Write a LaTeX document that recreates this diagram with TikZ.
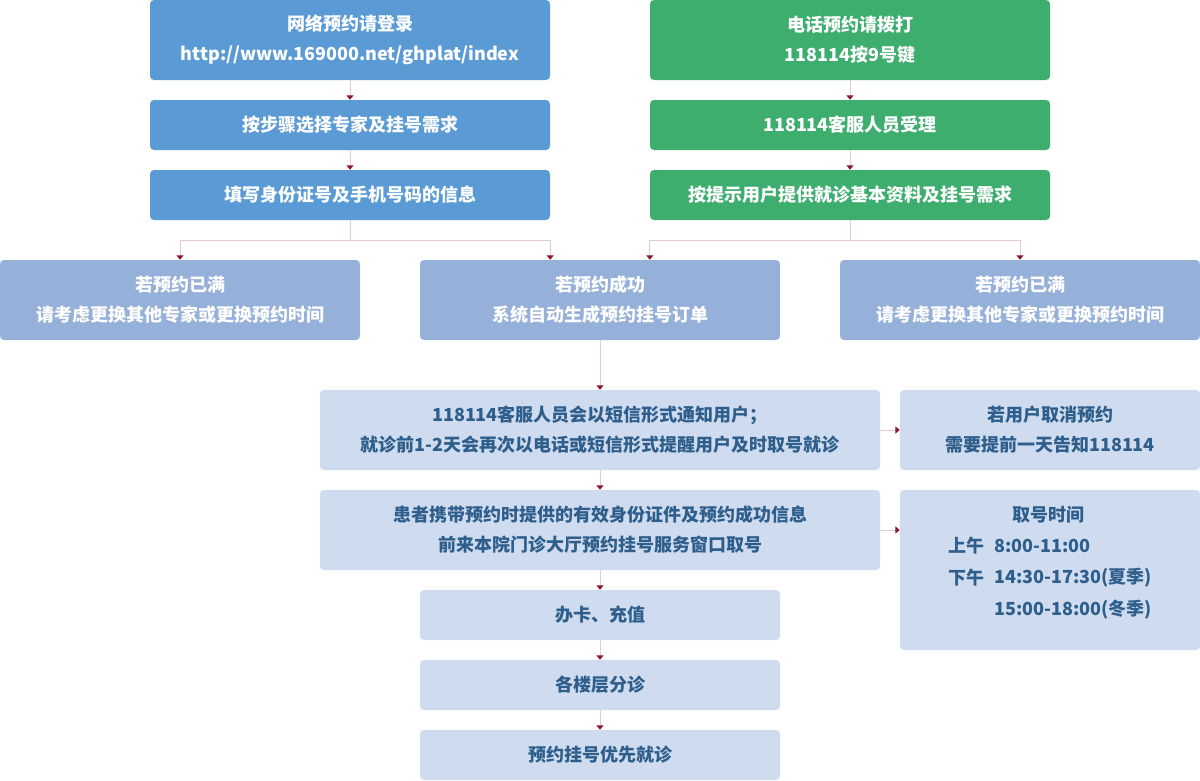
\documentclass[tikz,border=0pt]{standalone}
\usepackage{fontspec}
\setmainfont{Noto Sans CJK SC}
\usetikzlibrary{arrows.meta}
\definecolor{cblue}{HTML}{5B9BD5}
\definecolor{cgreen}{HTML}{3DAE6E}
\definecolor{cmid}{HTML}{95B0D9}
\definecolor{clight}{HTML}{CFDBEE}
\definecolor{ctext}{HTML}{2E5E8C}
\definecolor{cline}{HTML}{E4C9D2}
\definecolor{carrow}{HTML}{8B1A2E}
\tikzset{
  box/.style={draw=none, rounded corners=4pt, inner sep=0pt, align=center,
    font=\fontsize{18}{30}\selectfont\bfseries},
  bluebox/.style={box, fill=cblue, text=white},
  greenbox/.style={box, fill=cgreen, text=white},
  midbox/.style={box, fill=cmid, text=white},
  lightbox/.style={box, fill=clight, text=ctext},
  plain/.style={inner sep=0pt, text=ctext, font=\fontsize{18}{30}\selectfont\bfseries},
  conn/.style={draw=cline, line width=1pt, -{Triangle[width=7pt,length=4.5pt,color=carrow]}},
  connplain/.style={draw=cline, line width=1pt}
}
\begin{document}
\begin{tikzpicture}[x=1pt,y=-1pt]
\useasboundingbox (0,0) rectangle (1200,780);
% left column
\node[bluebox, minimum width=400pt, minimum height=80pt] (A1) at (350,40) {网络预约请登录\\http://www.169000.net/ghplat/index};
\node[bluebox, minimum width=400pt, minimum height=50pt] (A2) at (350,125) {按步骤选择专家及挂号需求};
\node[bluebox, minimum width=400pt, minimum height=50pt] (A3) at (350,195) {填写身份证号及手机号码的信息};
% right column
\node[greenbox, minimum width=400pt, minimum height=80pt] (B1) at (850,40) {电话预约请拨打\\118114按9号键};
\node[greenbox, minimum width=400pt, minimum height=50pt] (B2) at (850,125) {118114客服人员受理};
\node[greenbox, minimum width=400pt, minimum height=50pt] (B3) at (850,195) {按提示用户提供就诊基本资料及挂号需求};
% results
\node[midbox, minimum width=360pt, minimum height=80pt] (C1) at (180,300) {若预约已满\\请考虑更换其他专家或更换预约时间};
\node[midbox, minimum width=360pt, minimum height=80pt] (C2) at (600,300) {若预约成功\\系统自动生成预约挂号订单};
\node[midbox, minimum width=360pt, minimum height=80pt] (C3) at (1020,300) {若预约已满\\请考虑更换其他专家或更换预约时间};
% lower
\node[lightbox, minimum width=560pt, minimum height=80pt] (D1) at (600,430) {118114客服人员会以短信形式通知用户；\\就诊前1-2天会再次以电话或短信形式提醒用户及时取号就诊};
\node[lightbox, minimum width=300pt, minimum height=80pt] (D2) at (1050,430) {若用户取消预约\\需要提前一天告知118114};
\node[lightbox, minimum width=560pt, minimum height=80pt] (E1) at (600,530) {患者携带预约时提供的有效身份证件及预约成功信息\\前来本院门诊大厅预约挂号服务窗口取号};
\node[lightbox, minimum width=300pt, minimum height=160pt] (E2) at (1050,570) {};
\node[plain] (E2t) at (1048,515) {取号时间};
\node[plain, anchor=west] (E2a) at (948,546) {上午};
\node[plain, anchor=west] (E2b) at (994,546) {8:00-11:00};
\node[plain, anchor=west] (E2c) at (948,578) {下午};
\node[plain, anchor=west] (E2d) at (994,578) {14:30-17:30(夏季)};
\node[plain, anchor=west] (E2e) at (994,610) {15:00-18:00(冬季)};
\node[lightbox, minimum width=360pt, minimum height=50pt] (F1) at (600,615) {办卡、充值};
\node[lightbox, minimum width=360pt, minimum height=50pt] (F2) at (600,685) {各楼层分诊};
\node[lightbox, minimum width=360pt, minimum height=50pt] (F3) at (600,755) {预约挂号优先就诊};
% connectors
\draw[conn] (A1) -- (A2);
\draw[conn] (A2) -- (A3);
\draw[conn] (B1) -- (B2);
\draw[conn] (B2) -- (B3);
\coordinate (ja) at (350,240);
\coordinate (jb) at (850,240);
\draw[connplain] (A3.south) -- (ja);
\draw[conn] (ja) -| (C1.north);
\draw[conn] (ja) -| (A3.east |- C2.north);
\draw[connplain] (B3.south) -- (jb);
\draw[conn] (jb) -| (B3.west |- C2.north);
\draw[conn] (jb) -| (C3.north);
\draw[conn] (C2) -- (D1);
\draw[conn] (D1) -- (E1);
\draw[conn] (E1) -- (F1);
\draw[conn] (F1) -- (F2);
\draw[conn] (F2) -- (F3);
\draw[conn] (D1) -- (D2);
\draw[conn] (E1.east) -- (E1.east -| E2.west);
\end{tikzpicture}
\end{document}
